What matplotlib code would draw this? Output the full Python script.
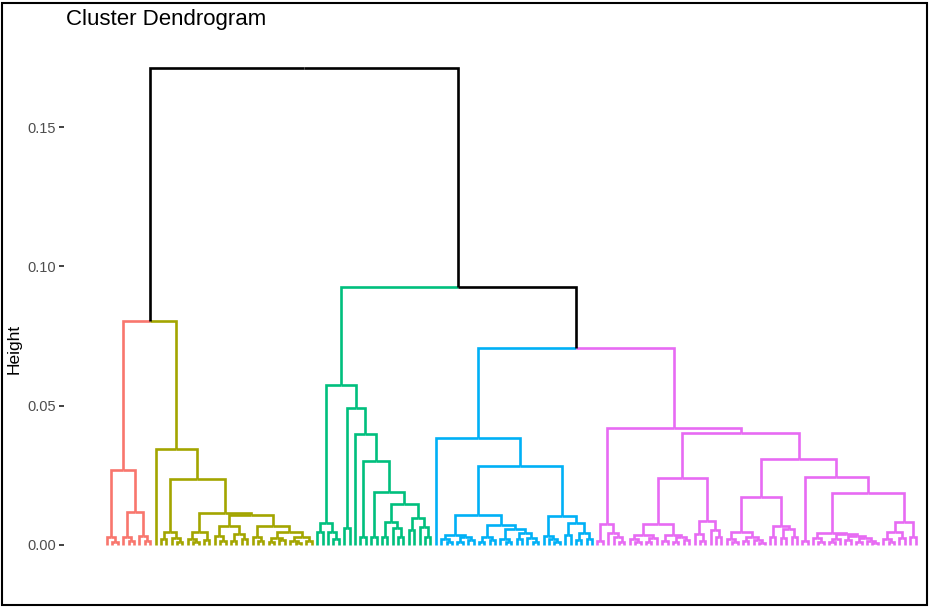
import matplotlib
matplotlib.use("Agg")
import matplotlib.pyplot as plt
from matplotlib.patches import Rectangle

plt.rcParams['font.family'] = ['Liberation Sans', 'DejaVu Sans']

# merge trees of the five clusters: [height, left, right], 0 is a leaf
red_tree = [0.0269,
    [0.0028, 0, [0.0012, 0, 0]],
    [0.0118, [0.0030, 0, [0.0014, 0, 0]], [0.0034, 0, [0.0016, 0, 0]]]]

olive_tree = [0.0345, 0,
    [0.0237,
        [0.0047, [0.0020, 0, 0], [0.0024, 0, [0.0010, 0, 0]]],
        [0.0115,
            [0.0047, [0.0022, 0, [0.0012, 0, 0]], [0.0018, 0, 0]],
            [0.0108,
                [0.0068, [0.0032, 0, [0.0016, 0, 0]], [0.0040, [0.0015, 0, 0], [0.0020, 0, 0]]],
                [0.0068,
                    [0.0030, 0, [0.0014, 0, 0]],
                    [0.0047, [0.0026, [0.0012, 0, 0], [0.0018, 0, 0]],
                             [0.0030, [0.0014, 0, [0.0008, 0, 0]], [0.0016, 0, 0]]]]]]]]

green_tree = [0.0574,
    [0.0079, [0.0045, 0, 0], [0.0046, 0, [0.0020, 0, 0]]],
    [0.0492, [0.0060, 0, 0],
        [0.0400, 0,
            [0.0300, [0.0030, 0, 0],
                [0.0190, [0.0030, 0, 0],
                    [0.0147,
                        [0.0083, [0.0030, 0, 0], [0.0060, 0, [0.0030, 0, 0]]],
                        [0.0097, [0.0055, 0, 0], [0.0065, 0, [0.0030, 0, 0]]]]]]]]]

blue_tree = [0.0384, 0,
    [0.0284,
        [0.0106,
            [0.0035, [0.0022, 0, [0.0012, 0, 0]], [0.0028, [0.0012, 0, 0], [0.0018, 0, 0]]],
            [0.0072,
                [0.0030, [0.0012, 0, 0], [0.0018, 0, 0]],
                [0.0057, [0.0022, 0, [0.0012, 0, 0]], [0.0043, [0.0020, 0, 0], [0.0025, 0, [0.0012, 0, 0]]]]]],
        [0.0104,
            [0.0032, 0, [0.0020, 0, [0.0010, 0, 0]]],
            [0.0079, [0.0036, 0, 0], [0.0043, [0.0018, 0, 0], [0.0020, 0, 0]]]]]]

pink_tree = [0.0420,
    [0.0075, [0.0015, 0, 0], [0.0043, 0, [0.0030, 0, [0.0012, 0, 0]]]],
    [0.0402,
        [0.0240,
            [0.0075,
                [0.0035, [0.0020, 0, [0.0010, 0, 0]], [0.0025, [0.0012, 0, 0], 0]],
                [0.0036, [0.0015, 0, 0], [0.0028, [0.0012, 0, 0], [0.0018, 0, 0]]]],
            [0.0086, [0.0040, 0, [0.0016, 0, 0]], [0.0055, 0, [0.0030, 0, 0]]]],
        [0.0310,
            [0.0172,
                [0.0047, [0.0020, 0, [0.0010, 0, 0]], [0.0030, [0.0015, 0, 0], [0.0018, 0, [0.0008, 0, 0]]]],
                [0.0068, [0.0030, 0, 0], [0.0057, [0.0025, 0, 0], [0.0030, 0, 0]]]],
            [0.0244,
                [0.0015, 0, 0],
                [0.0187,
                    [0.0043, [0.0025, 0, [0.0012, 0, 0]],
                             [0.0038, [0.0020, [0.0010, 0, 0], 0],
                                      [0.0032, [0.0018, 0, 0], [0.0024, [0.0012, 0, 0], [0.0016, 0, [0.0008, 0, 0]]]]]],
                    [0.0083, [0.0047, [0.0020, 0, [0.0010, 0, 0]], [0.0025, 0, 0]], [0.0030, 0, 0]]]]]]]

cluster_trees = [red_tree, olive_tree, green_tree, blue_tree, pink_tree]
cluster_colors = ["#F8766D", "#A3A500", "#00BF7D", "#00B0F6", "#E76BF3"]

# joins above the clusters
h_red_olive = 0.0804
h_blue_pink = 0.0707
h_green_rest = 0.0926
h_root = 0.1712

y_ticks = [0.00, 0.05, 0.10, 0.15]

full_tree = [h_root,
             [h_red_olive, red_tree, olive_tree],
             [h_green_rest, green_tree, [h_blue_pink, blue_tree, pink_tree]]]

color_of = {id(t): c for t, c in zip(cluster_trees, cluster_colors)}

W, H = 930, 607
fig = plt.figure(figsize=(W / 100, H / 100), dpi=100)
# panel in pixels: x 64..925, y 45..560 from the top
ax = fig.add_axes([64 / W, (H - 560) / H, (925 - 64) / W, (560 - 45) / H])

leaf_pos = [0]


def draw(node, color):
    color = color_of.get(id(node), color)
    if not isinstance(node, list):
        x = leaf_pos[0]
        leaf_pos[0] += 1
        return x, 0.0, color
    h, left, right = node
    kids = [draw(left, color), draw(right, color)]
    x = (kids[0][0] + kids[1][0]) / 2
    for xc, hc, cc in kids:
        ax.plot([x, xc, xc], [h, h, hc], color=cc, lw=1.9,
                solid_joinstyle='miter', solid_capstyle='butt')
    return x, h, color


draw(full_tree, 'black')

n = leaf_pos[0]
step = (915.5 - 107) / (n - 1)
ax.set_xlim(-(107 - 64) / step, (n - 1) + (925 - 915.5) / step)
ax.set_ylim((545 - 560) / 2786, (545 - 45) / 2786)

for s in ax.spines.values():
    s.set_visible(False)
ax.set_xticks([])
ax.set_yticks(y_ticks)
ax.set_yticklabels(['%.2f' % v for v in y_ticks])
ax.tick_params(axis='y', length=3.5, width=1.3, color='#333333',
               labelcolor='#4D4D4D', labelsize=10.5, pad=2)

fig.text(66 / W, 1 - 20 / H, 'Cluster Dendrogram', fontsize=16,
         ha='left', va='center', color='black')
fig.text(14 / W, 1 - 349 / H, 'Height', fontsize=12.5, rotation=90,
         ha='center', va='center', color='black')

fig.patches.append(Rectangle((2 / W, 2 / H), 925 / W, 602 / H,
                             transform=fig.transFigure, fill=False,
                             edgecolor='black', lw=1.5))

fig.savefig('out.png', dpi=100)
